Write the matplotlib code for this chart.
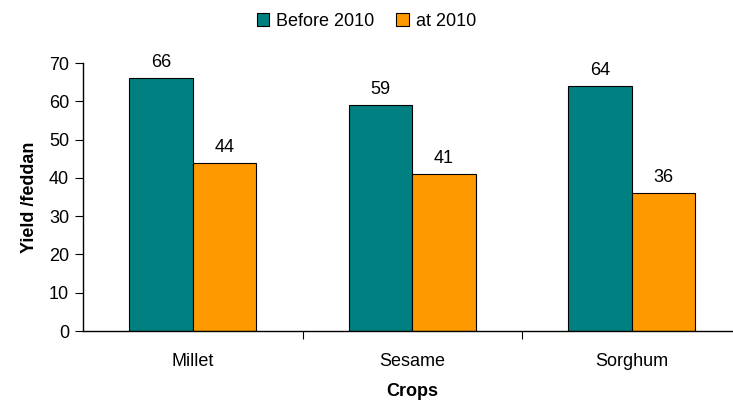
import numpy as np
import matplotlib.pyplot as plt

plt.rcParams['font.family'] = ['Liberation Sans', 'DejaVu Sans']

crops = ['Millet', 'Sesame', 'Sorghum']
before_2010 = [66, 59, 64]
at_2010 = [44, 41, 36]

teal = '#008080'
orange = '#FF9900'

fig = plt.figure(figsize=(7.33, 4.01), dpi=100)
# axes runs slightly past the right edge, like the original
ax = fig.add_axes([83 / 733, 70 / 401, 658.5 / 733, 268 / 401])

x = np.arange(len(crops))
w = 0.29
b1 = ax.bar(x - w / 2, before_2010, w, color=teal, edgecolor='black',
            linewidth=0.8, label='Before 2010')
b2 = ax.bar(x + w / 2, at_2010, w, color=orange, edgecolor='black',
            linewidth=0.8, label='at 2010')

for bars in (b1, b2):
    for rect in bars:
        h = rect.get_height()
        ax.annotate(f'{h:g}', (rect.get_x() + rect.get_width() / 2, h),
                    xytext=(0, 5), textcoords='offset points',
                    ha='center', va='bottom', fontsize=13)

ax.set_xlim(-0.5, 2.5)
ax.set_ylim(0, 70)
ax.set_yticks(range(0, 71, 10))
ax.set_xticks([0.5, 1.5, 2.5])
ax.set_xticklabels([])
ax.set_xticks(x, minor=True)
ax.set_xticklabels(crops, minor=True)
ax.tick_params(axis='x', which='minor', length=0, pad=16, labelsize=13)
ax.tick_params(axis='x', which='major', length=6, direction='out')
ax.tick_params(axis='y', length=6, labelsize=13, pad=4)

for s in ('top', 'right'):
    ax.spines[s].set_visible(False)
ax.spines['left'].set_linewidth(1.0)
ax.spines['bottom'].set_linewidth(1.0)

ax.set_ylabel('Yield /feddan', fontsize=13, fontweight='bold', labelpad=8)
ax.set_xlabel('Crops', fontsize=13, fontweight='bold', labelpad=9)

fig.legend(loc='upper center', bbox_to_anchor=(0.5, 1.0), ncol=2,
           frameon=False, fontsize=13, handlelength=0.7, handleheight=0.7,
           handletextpad=0.4, columnspacing=1.2, borderaxespad=0.3)

fig.savefig('out.png', dpi=100)
